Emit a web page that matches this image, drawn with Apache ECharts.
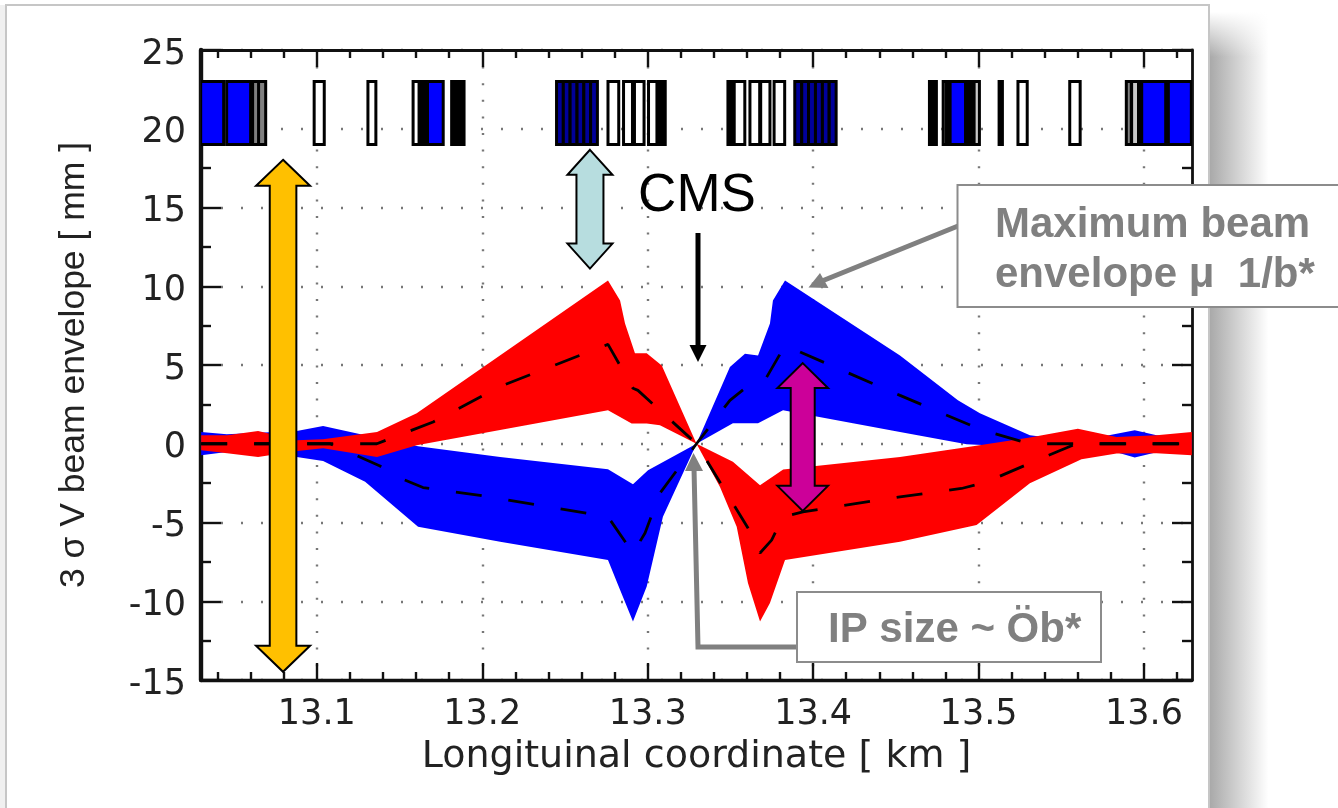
<!DOCTYPE html>
<html>
<head>
<meta charset="utf-8">
<style>html,body{margin:0;padding:0;background:#fff}#c{width:1338px;height:808px;filter:blur(0.55px)}</style>
<script src="https://cdn.jsdelivr.net/npm/echarts@6/dist/echarts.min.js"></script>
</head>
<body>
<div id="c"></div>
<script>
// Axis values
const xMajor = [13.1, 13.2, 13.3, 13.4, 13.5, 13.6];
const xMinor = [13.04, 13.06, 13.08, 13.12, 13.14, 13.16, 13.18, 13.22, 13.24, 13.26, 13.28, 13.32, 13.34, 13.36, 13.38, 13.42, 13.44, 13.46, 13.48, 13.52, 13.54, 13.56, 13.58, 13.62];

// Beam envelope outlines: [km, mm]
const redUpper = [[13.0301,.54],[13.0458,.54],[13.0645,.81],[13.0881,.22],[13.1038,.29],[13.1364,.75],[13.1604,1.93],[13.2760,10.36],[13.2833,9.09],[13.2863,7.64],[13.2923,5.74],[13.2994,5.74],[13.3085,4.97],[13.3295,0],[13.3515,-1.15],[13.3679,-2.63],[13.3819,-1.63],[13.4525,-.84],[13.4966,-.16],[13.5310,.39],[13.5600,.96],[13.5834,.43],[13.6076,.54],[13.6289,.75]];
const redLower = [[13.0301,-.41],[13.0458,-.60],[13.0645,-.84],[13.0881,-.46],[13.1038,-.29],[13.1364,-.84],[13.1604,-.10],[13.2760,2.12],[13.2903,1.28],[13.2994,1.28],[13.3074,1.17],[13.3295,0],[13.3437,-2.74],[13.3538,-5.27],[13.3606,-8.84],[13.3679,-11.29],[13.3739,-10.11],[13.3830,-7.38],[13.4525,-6.22],[13.4988,-5.16],[13.5310,-2.50],[13.5622,-.98],[13.5834,-.62],[13.6076,-.60],[13.6289,-.73]];
const blueUpper = [[13.0301,.75],[13.0456,.60],[13.0879,.81],[13.1038,1.13],[13.1292,.54],[13.1612,-.16],[13.2108,-.84],[13.2760,-1.62],[13.2911,-2.57],[13.3002,-1.68],[13.3295,0],[13.3497,4.87],[13.3588,5.72],[13.3667,5.61],[13.3739,7.64],[13.3757,9.09],[13.3830,10.36],[13.4525,5.61],[13.4875,2.76],[13.5008,1.93],[13.5310,.54],[13.5600,.16],[13.5944,.86],[13.6076,.54],[13.6289,.29]];
const blueLower = [[13.0301,-.73],[13.0456,-.52],[13.0879,-.84],[13.1038,-1.09],[13.1292,-2.42],[13.1612,-5.27],[13.2108,-6.22],[13.2760,-7.38],[13.2821,-8.97],[13.2911,-11.29],[13.2994,-9.07],[13.3092,-4.64],[13.3295,0],[13.3515,1.30],[13.3667,1.30],[13.3818,2.12],[13.4525,.75],[13.4928,-.03],[13.5310,-.22],[13.5834,-.54],[13.5944,-.87],[13.6076,-.54],[13.6289,-.29]];

// Central dashed envelopes: [km, mm]
const dashA = [[13.0301,0],[13.1363,0],[13.1703,1.38],[13.2108,3.64],[13.2760,6.31],[13.2911,3.52],[13.2941,3.39],[13.3295,0],[13.3606,-5.35],[13.3679,-6.94],[13.3749,-6.12],[13.3818,-4.64],[13.3938,-4.32],[13.4525,-3.37],[13.4897,-2.84],[13.5048,-2.42],[13.5471,-.52],[13.5592,0],[13.6289,0]];
const dashB = [[13.0301,0],[13.1080,0],[13.1382,-1.41],[13.1521,-2.25],[13.1642,-2.78],[13.1975,-3.26],[13.2760,-4.64],[13.2911,-6.94],[13.2984,-5.67],[13.3074,-3.14],[13.3295,0],[13.3497,2.76],[13.3598,3.60],[13.3719,4.23],[13.3830,6.24],[13.4525,3.07],[13.5008,.92],[13.5310,0],[13.6289,0]];

// Lattice magnets: [start km, end km, kind]
const magnetTop = 23, magnetBottom = 19;
const magnets = [
 [13.0298,13.0437,'b'],[13.0455,13.0600,'b'],[13.0612,13.0654,'g'],[13.0648,13.0691,'g'],
 [13.0984,13.1045,'w'],[13.1309,13.1357,'w'],[13.1582,13.1623,'w'],[13.1618,13.1673,'k'],[13.1669,13.1764,'b'],[13.1815,13.1890,'k'],
 [13.2449,13.2490,'n'],[13.2490,13.2531,'n'],[13.2531,13.2573,'n'],[13.2573,13.2614,'n'],[13.2614,13.2655,'n'],[13.2655,13.2696,'n'],
 [13.2760,13.2825,'w'],[13.2854,13.2908,'w'],[13.2920,13.2978,'w'],[13.3005,13.3059,'w'],[13.3056,13.3106,'k'],
 [13.3485,13.3524,'k'],[13.3523,13.3587,'w'],[13.3618,13.3677,'w'],[13.3683,13.3739,'w'],[13.3764,13.3828,'w'],
 [13.3889,13.3931,'n'],[13.3931,13.3972,'n'],[13.3972,13.4014,'n'],[13.4014,13.4056,'n'],[13.4056,13.4097,'n'],[13.4097,13.4139,'n'],
 [13.4703,13.4745,'k'],[13.4786,13.4807,'g'],[13.4807,13.4828,'k'],[13.4828,13.4922,'b'],[13.4922,13.4973,'k'],[13.4973,13.5005,'l'],
 [13.5124,13.5144,'k'],[13.5238,13.5294,'w'],[13.5551,13.5614,'w'],[13.5893,13.5923,'g'],[13.5925,13.5967,'l'],[13.5967,13.5986,'k'],[13.5986,13.6131,'b'],[13.6147,13.6286,'b']
];
const magnetFill = {b:'#0000ff', g:'#808080', l:'#c8c8c8', w:'#ffffff', k:'#000000', n:'#00009a'};

// Double arrows: [km, top mm, bottom mm]
const rangeArrows = [[13.0796,18.03,-14.48],[13.2651,18.66,11.12],[13.3937,5.12,-4.26]];
const rangeStyles = [
  {fill:'#FFC000', shaft:13.3, head:27, len:26},
  {fill:'#B7DDDF', shaft:13.5, head:22.5, len:25},
  {fill:'#CC0099', shaft:12, head:25.3, len:25}
];

function band(upper, lower, color) {
  const outline = upper.concat(lower.slice().reverse());
  return {
    type: 'custom', clip: true, silent: true, data: outline,
    renderItem(p, api) {
      if (p.dataIndex !== 0) return null;
      return {type:'polygon', shape:{points: outline.map(d => api.coord(d))}, style:{fill: color}};
    }
  };
}
function dashed(data) {
  return {type:'line', data, showSymbol:false, silent:true, clip:true,
    lineStyle:{color:'#000', width:2.8, type:[26,27], cap:'butt'}};
}
const axisBase = {type:'value', min:13.03, max:13.629, axisLabel:{show:false}, splitLine:{show:false}, minorTick:{show:false}};
const lineDark = w => ({show:true, onZero:false, lineStyle:{color:'#111', width:w}});
const noLine = {show:false, onZero:false};
const tick = (vals, len) => ({show:true, inside:true, length:len, customValues:vals, lineStyle:{color:'#111', width:2.4}});

const option = {
  animation: false,
  backgroundColor: '#fff',
  grid: {left:201, right:146, top:50, bottom:128, containLabel:false},
  xAxis: [
    Object.assign({}, axisBase, {
      position:'bottom', axisLine:lineDark(3.4), axisTick:tick(xMajor,17),
      axisLabel:{show:true, customValues:xMajor, fontFamily:'DejaVu Sans', fontSize:35, color:'#222', margin:17, formatter:v=>v.toFixed(1)},
      splitLine:{show:true, lineStyle:{color:'#777', width:2.4, type:[2,14.6]}},
      name:'Longituinal coordinate [ km ]', nameLocation:'middle', nameGap:58,
      nameTextStyle:{fontFamily:'DejaVu Sans', fontSize:38, color:'#222'}
    }),
    Object.assign({}, axisBase, {position:'bottom', axisLine:noLine, axisTick:tick(xMinor,8)}),
    Object.assign({}, axisBase, {position:'top', axisLine:lineDark(2.8), axisTick:tick(xMajor,17)}),
    Object.assign({}, axisBase, {position:'top', axisLine:noLine, axisTick:tick(xMinor,8)})
  ],
  yAxis: [
    {type:'value', position:'left', min:-15, max:25, interval:5,
      axisLine:lineDark(4.4),
      axisTick:{show:true, inside:true, length:20, lineStyle:{color:'#111', width:2.4}},
      minorTick:{show:true, splitNumber:2, length:10, lineStyle:{color:'#111', width:2.4}},
      axisLabel:{show:true, fontFamily:'DejaVu Sans', fontSize:35, color:'#222', margin:15, verticalAlign:'top', lineHeight:9},
      splitLine:{show:true, lineStyle:{color:'#777', width:2.4, type:[2,18]}},
      name:'3 σ V beam envelope [ mm ]', nameLocation:'middle', nameRotate:90, nameGap:109,
      nameTextStyle:{fontFamily:'Liberation Sans', fontSize:35.5, color:'#222'}
    },
    {type:'value', position:'right', min:-15, max:25, interval:5,
      axisLine:lineDark(2.8),
      axisTick:{show:true, inside:true, length:20, lineStyle:{color:'#111', width:2.4}},
      minorTick:{show:true, splitNumber:2, length:10, lineStyle:{color:'#111', width:2.4}},
      axisLabel:{show:false}, splitLine:{show:false}
    }
  ],
  series: [
    band(blueUpper, blueLower, '#0000ff'),
    band(redUpper, redLower, '#ff0000'),
    dashed(dashA),
    dashed(dashB),
    {
      type:'custom', clip:true, silent:true, data:magnets,
      renderItem(p, api) {
        const m = magnets[p.dataIndex];
        const a = api.coord([m[0], magnetTop]), b = api.coord([m[1], magnetBottom]);
        return {type:'rect', shape:{x:a[0], y:a[1], width:b[0]-a[0], height:b[1]-a[1]},
          style:{fill: magnetFill[m[2]], stroke:'#000', lineWidth:3}};
      }
    },
    {
      type:'custom', clip:false, silent:true, data:rangeArrows, z:20,
      renderItem(p, api) {
        const d = rangeArrows[p.dataIndex], s = rangeStyles[p.dataIndex];
        const t = api.coord([d[0], d[1]]), b = api.coord([d[0], d[2]]);
        const x = t[0];
        return {type:'polygon', shape:{points:[
          [x,t[1]],[x+s.head,t[1]+s.len],[x+s.shaft,t[1]+s.len],[x+s.shaft,b[1]-s.len],[x+s.head,b[1]-s.len],
          [x,b[1]],[x-s.head,b[1]-s.len],[x-s.shaft,b[1]-s.len],[x-s.shaft,t[1]+s.len],[x-s.head,t[1]+s.len]
        ]}, style:{fill:s.fill, stroke:'#000', lineWidth:2, lineJoin:'miter'}};
      }
    }
  ],
  graphic: {elements: [
    // slide panel and its shadow
    {type:'rect', z:-3, silent:true, shape:{x:0,y:5,width:6,height:803}, style:{fill:'#f0f0f0'}},
    {type:'rect', z:-3, silent:true, shape:{x:1209,y:12,width:70,height:796}, style:{fill:{type:'linear',x:0,y:0,x2:1,y2:0,colorStops:[{offset:0,color:'#a8a8a8'},{offset:.45,color:'#d6d6d6'},{offset:.85,color:'#ffffff'},{offset:1,color:'#ffffff'}]}}},
    {type:'rect', z:-2, silent:true, shape:{x:1209,y:12,width:70,height:45}, style:{fill:{type:'linear',x:0,y:0,x2:0,y2:1,colorStops:[{offset:0,color:'rgba(255,255,255,1)'},{offset:1,color:'rgba(255,255,255,0)'}]}}},
    {type:'rect', z:-1, silent:true, shape:{x:6,y:5,width:1203,height:810}, style:{fill:'#fff', stroke:'#c6c6c6', lineWidth:2}},
    // CMS pointer
    {type:'text', z:30, silent:true, style:{text:'CMS', x:697, y:196, align:'center', verticalAlign:'middle', font:'53px "Liberation Sans"', fill:'#000'}},
    {type:'line', z:30, silent:true, shape:{x1:698,y1:233,x2:698,y2:348}, style:{stroke:'#000', lineWidth:5}},
    {type:'polygon', z:30, silent:true, shape:{points:[[689.5,345],[706.5,345],[698,362]]}, style:{fill:'#000'}},
    // IP size pointer and box
    {type:'polyline', z:30, silent:true, shape:{points:[[800,647],[698,647],[694,468]]}, style:{stroke:'#808080', lineWidth:5, fill:null}},
    {type:'polygon', z:30, silent:true, shape:{points:[[685,471],[703,471],[693.5,453]]}, style:{fill:'#808080'}},
    {type:'rect', z:31, silent:true, shape:{x:797,y:592,width:304,height:70}, style:{fill:'#fff', stroke:'#8c8c8c', lineWidth:2}},
    {type:'text', z:32, silent:true, style:{text:'IP size ~ Öb*', x:828, y:651, align:'left', verticalAlign:'bottom', font:'bold 42px "Liberation Sans"', fill:'#808080'}},
    // Maximum envelope pointer and box
    {type:'line', z:30, silent:true, shape:{x1:958,y1:226,x2:822,y2:281}, style:{stroke:'#808080', lineWidth:5}},
    {type:'polygon', z:30, silent:true, shape:{points:[[808.5,287.5],[820,273],[828.5,288]]}, style:{fill:'#808080'}},
    {type:'rect', z:31, silent:true, shape:{x:957.5,y:185,width:400,height:122}, style:{fill:'#fff', stroke:'#8c8c8c', lineWidth:2}},
    {type:'text', z:32, silent:true, style:{text:'Maximum beam', x:995, y:225, align:'left', verticalAlign:'middle', font:'bold 42px "Liberation Sans"', fill:'#808080'}},
    {type:'text', z:32, silent:true, style:{text:'envelope μ  1/b*', x:995, y:275, align:'left', verticalAlign:'middle', font:'bold 42px "Liberation Sans"', fill:'#808080'}}
  ]}
};
// Every series lives on the first x and y axes.
echarts.init(document.getElementById('c'), null, {renderer:'canvas'}).setOption(option);
</script>
</body>
</html>
